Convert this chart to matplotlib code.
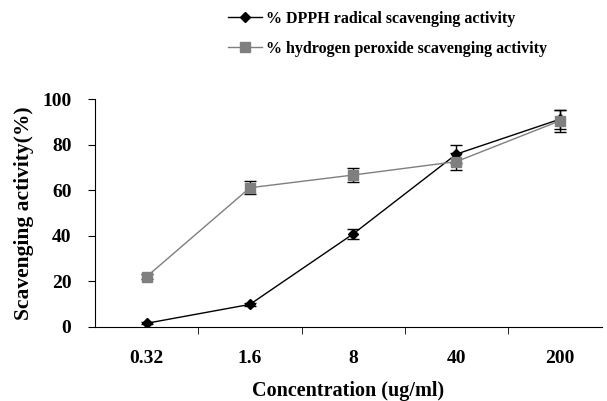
import matplotlib
matplotlib.use("Agg")
import matplotlib.pyplot as plt

concentrations = ["0.32", "1.6", "8", "40", "200"]
dpph = [1.5, 9.8, 40.8, 75.9, 91.2]
dpph_err = [0.5, 0.8, 2.2, 4.0, 4.2]
h2o2 = [22.0, 61.1, 66.7, 72.6, 90.5]
h2o2_err = [1.0, 2.8, 3.2, 3.7, 4.8]

plt.rcParams["font.family"] = ["Liberation Serif", "DejaVu Serif"]
plt.rcParams["font.weight"] = "bold"

fig = plt.figure(figsize=(6.07, 4.01), dpi=100)
ax = fig.add_axes([95 / 607, 74.3 / 401, (602 - 95) / 607, 227.4 / 401])

x = list(range(len(concentrations)))

# error bars first, lines and markers on top
ax.errorbar(x, dpph, yerr=dpph_err, fmt="none",
            ecolor="black", elinewidth=1, capsize=4.5)
ax.errorbar(x, h2o2, yerr=h2o2_err, fmt="none",
            ecolor="black", elinewidth=1, capsize=4.5)

ax.plot(x, dpph, color="black", marker="D", markersize=5,
        linewidth=1, label="% DPPH radical scavenging activity")
ax.plot(x, h2o2, color="#7f7f7f", marker="s", markersize=7,
        linewidth=1, label="% hydrogen peroxide scavenging activity")

ax.set_xlim(-0.5, 4.41)
ax.set_ylim(0, 100)
ax.set_yticks([0, 20, 40, 60, 80, 100])
ax.set_xticks(x)
ax.set_xticklabels(concentrations)
ax.set_xticks([0.5, 1.5, 2.5, 3.5], minor=True)
ax.tick_params(axis="x", which="major", length=0, pad=17, labelsize=14)
ax.tick_params(axis="x", which="minor", length=5, direction="out")
ax.tick_params(axis="y", length=5, direction="out", pad=12, labelsize=14)
ax.spines["top"].set_visible(False)
ax.spines["right"].set_visible(False)

ax.set_xlabel("Concentration (ug/ml)", fontsize=14.5, fontweight="bold", labelpad=10)
ax.set_ylabel("Scavenging activity(%)", fontsize=15.5, fontweight="bold", labelpad=6)

fig.legend(
    loc="upper left",
    bbox_to_anchor=(228 / 607, 1 - 11 / 401),
    frameon=False,
    fontsize=11.5,
    borderpad=0,
    borderaxespad=0,
    handlelength=2.1,
    handletextpad=0.25,
    labelspacing=0.85,
)

fig.savefig("out.png", dpi=100)
